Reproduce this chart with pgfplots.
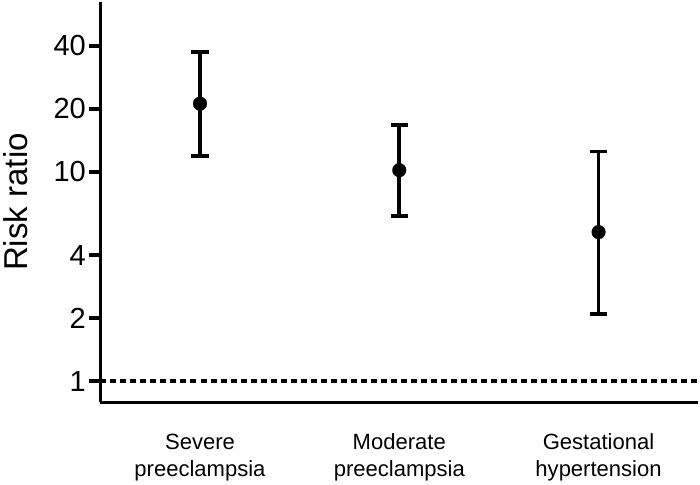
\documentclass[border=0pt]{standalone}
\usepackage{pgfplots}
\pgfplotsset{compat=1.18}
\usepackage{fontspec}
\setmainfont{Liberation Sans}
\begin{document}
\begin{tikzpicture}
\begin{axis}[
  scale only axis, width=597pt, height=400pt,
  ymode=log, log basis y=10, ymin=0.793, ymax=65,
  xmin=-0.5, xmax=2.5,
  axis x line*=bottom, axis y line*=left,
  axis line style={line width=3.6pt, -},
  xtick={0,1,2},
  xticklabels={Severe\\preeclampsia, Moderate\\preeclampsia, Gestational\\hypertension},
  xticklabel style={align=center, font=\fontsize{22}{27}\selectfont, yshift=-17pt},
  x tick style={draw=none},
  ytick={1,2,4,10,20,40}, yticklabels={1,2,4,10,20,40},
  yticklabel style={font=\fontsize{29}{30}\selectfont},
  y tick style={line width=3.6pt, black},
  tick align=outside, major tick length=11pt,
  ylabel={Risk ratio},
  ylabel style={font=\fontsize{33}{33}\selectfont, yshift=19pt},
  clip=false,
]
\addplot[black, line width=3.6pt, dash pattern=on 6pt off 4pt] coordinates {(-0.5,1) (2.5,1)};
% confidence intervals (lower, upper) with caps
\addplot[black, line width=3.6pt, mark=-, mark size=8.5pt] coordinates {(0,11.9) (0,37.5)};
\addplot[black, line width=3.6pt, mark=-, mark size=8.5pt] coordinates {(1,6.16) (1,16.8)};
\addplot[black, line width=3.6pt, mark=-, mark size=8.5pt] coordinates {(2,2.09) (2,12.5)};
% point estimates
\addplot[black, only marks, mark=*, mark size=6.8pt] coordinates {(0,21.2) (1,10.2) (2,5.16)};
\end{axis}
\end{tikzpicture}
\end{document}
